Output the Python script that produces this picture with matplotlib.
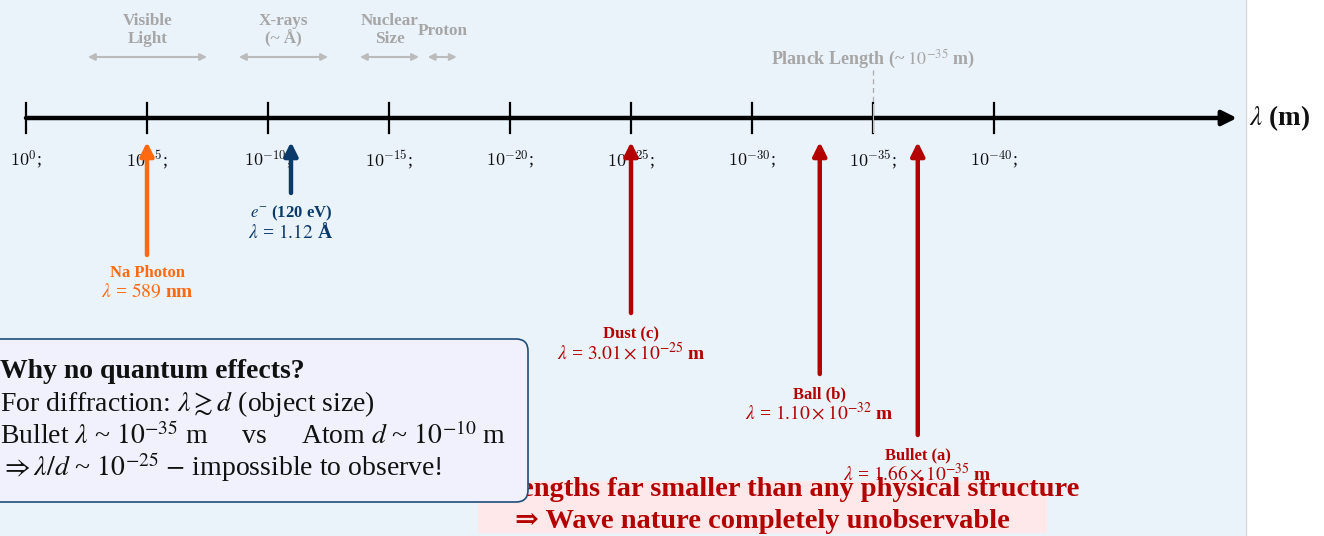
import matplotlib
matplotlib.use("Agg")
import matplotlib.pyplot as plt
from matplotlib.patches import FancyBboxPatch, Rectangle

plt.rcParams['font.family'] = ['Liberation Serif', 'DejaVu Serif']
plt.rcParams['mathtext.fontset'] = 'stix'

# ---- data ----
tick_exponents = [0, -5, -10, -15, -20, -25, -30, -35, -40]
tick_labels = [r"$10^{%d}$;" % e for e in tick_exponents]

marker_names = ["Na Photon", r"$e^{-}$ (120 eV)", "Dust (c)", "Ball (b)", "Bullet (a)"]
marker_values = [r"$\lambda$ = $589$ nm", r"$\lambda$ = $1.12$ Å",
                 r"$\lambda$ = $3.01\times10^{-25}$ m", r"$\lambda$ = $1.10\times10^{-32}$ m",
                 r"$\lambda$ = $1.66\times10^{-35}$ m"]
marker_decades = [5.0, 10.95, 25.0, 32.8, 36.85]          # position on axis (-log10 scale)
marker_colors = ["#FF6A10", "#0B3A6A", "#B30000", "#B30000", "#B30000"]

range_names = ["Visible\nLight", "X-rays\n(~ Å)", "Nuclear\nSize", "Proton"]
range_start = [2.56, 8.8, 13.8, 16.6]
range_end = [7.48, 12.48, 16.24, 17.8]
planck_decade = 35

# ---- layout ----
W, H = 1324, 536
X0, PX_PER_DEC = 26, 24.2
fig = plt.figure(figsize=(W / 100, H / 100), dpi=100)
ax = fig.add_axes([0, 0, 1, 1])
ax.set_xlim(-X0 / PX_PER_DEC, (W - X0) / PX_PER_DEC)
ax.set_ylim(H, 0)
ax.axis('off')

lay = fig.add_axes([0, 0, 1, 1], zorder=5)
lay.set_xlim(0, W)
lay.set_ylim(H, 0)
lay.axis('off')
lay.patch.set_alpha(0)

fig.patch.set_facecolor('white')
ax.add_patch(Rectangle((0, 0), 1246 / W, 1, transform=ax.transAxes,
                       facecolor='#EAF2FA', edgecolor='none', zorder=0))
ax.plot([1246 / W] * 2, [0, 1], transform=ax.transAxes, color='#D8D8D8', lw=1, zorder=1)

AXY = 118
axis_end = (1237 - X0) / PX_PER_DEC
ax.annotate('', xy=(axis_end, AXY), xytext=(0, AXY),
            arrowprops=dict(arrowstyle='-|>', lw=3.2, color='black',
                            mutation_scale=22, shrinkA=0, shrinkB=0), zorder=3)
ax.text(axis_end + 0.5, AXY, r"$\lambda$ (m)", fontsize=19.5, fontweight='bold',
        va='center', ha='left', color='#111111')

for e, lab in zip(tick_exponents, tick_labels):
    d = -e
    ax.plot([d, d], [103, 133], color='black', lw=1.6, zorder=3)
    ax.text(d, 160, lab, fontsize=13, ha='center', va='center', color='#111111',
            math_fontfamily='cm', zorder=2)

# Planck
ax.plot([planck_decade] * 2, [104, 132], color='#BBBBBB', lw=0.8, zorder=4)
ax.plot([planck_decade] * 2, [70, 103], color='#AAAAAA', lw=0.9, ls=(0, (4, 3)), zorder=2)
ax.text(planck_decade, 59, r"Planck Length (~ $10^{-35}$ m)", fontsize=13,
        fontweight='bold', color='#A6A6A6', ha='center', va='center')

# ranges
for name, a, b in zip(range_names, range_start, range_end):
    ax.annotate('', xy=(a, 57), xytext=(b, 57),
                arrowprops=dict(arrowstyle='<|-|>', lw=1.5, color='#BBBBBB',
                                mutation_scale=10, shrinkA=0, shrinkB=0))
    ty = 30 if '\n' in name else 31
    ax.text((a + b) / 2, ty, name, fontsize=12.3, fontweight='bold', color='#A6A6A6',
            ha='center', va='center', linespacing=1.1)

# markers
tails = [255, 193, 313, 374, 435]
name_y = [273, 213, 334, 394, 455]
for nm, val, d, c, ty, ny in zip(marker_names, marker_values, marker_decades,
                                 marker_colors, tails, name_y):
    ax.annotate('', xy=(d, 142), xytext=(d, ty),
                arrowprops=dict(arrowstyle='-|>', lw=3.2, color=c,
                                mutation_scale=20, shrinkA=0, shrinkB=0), zorder=4)
    ax.text(d, ny, nm, fontsize=12, fontweight='bold', color=c, ha='center', va='center')
    ax.text(d, ny + 19, val, fontsize=14, fontweight='bold', color=c, ha='center', va='center')

# bottom conclusion
lay.add_patch(Rectangle((478, 481), 569, 52, facecolor='#FFE8EA', edgecolor='none', zorder=1))
lay.text(762, 490, "Wavelengths far smaller than any physical structure", fontsize=20.5,
         fontweight='bold', color='#B30000', ha='center', va='center', zorder=2)
lay.text(762, 522, "⇒ Wave nature completely unobservable", fontsize=20.5,
         fontweight='bold', color='#B30000', ha='center', va='center', zorder=2)

# info box
lay.add_patch(FancyBboxPatch((-30, 339), 558, 163,
                             boxstyle='round,pad=0,rounding_size=12',
                             facecolor='#F0F1FC', edgecolor='#1F4E79', lw=1.2, zorder=6))
lines = ["Why no quantum effects?",
         r"For diffraction: $\lambda \gtrsim d$ (object size)",
         r"Bullet $\lambda$ ~ $10^{-35}$ m     vs     Atom $d$ ~ $10^{-10}$ m",
         r"$\Rightarrow \lambda/d$ ~ $10^{-25}$ $-$ impossible to observe!"]
ys = [371, 404, 436, 467]
for i, (t, y) in enumerate(zip(lines, ys)):
    lay.text(0, y, t, fontsize=20 if i == 0 else 20, fontweight='bold' if i == 0 else 'normal',
             color='#111111', ha='left', va='center', zorder=7)

fig.savefig("out.png", dpi=100)
